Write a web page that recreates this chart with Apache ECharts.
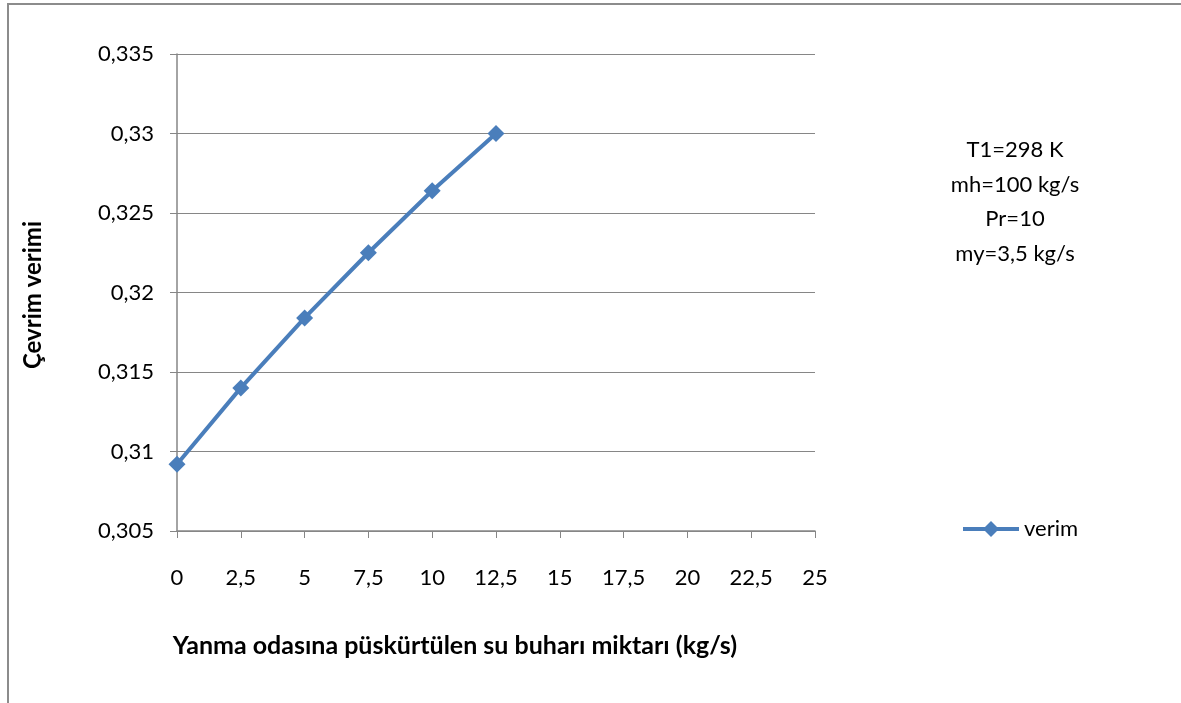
<!DOCTYPE html>
<html>
<head>
<meta charset="utf-8">
<script src="https://cdn.jsdelivr.net/npm/echarts@6/dist/echarts.min.js"></script>
<style>
  html, body { margin: 0; padding: 0; background: #fff; }
  #echarts-box { width: 1181px; height: 703px; }
</style>
</head>
<body>
<div id="echarts-box"></div>
<script>
// data
var xValues = [0, 2.5, 5, 7.5, 10, 12.5];
var verim = [0.3092, 0.3140, 0.3184, 0.3225, 0.3264, 0.3300];
var seriesName = "verim";
var noteLines = ["T1=298 K", "mh=100 kg/s", "Pr=10", "my=3,5 kg/s"];

var FONT = "Lato";
var comma = function (v) {
    return String(+Number(v).toFixed(3)).replace(".", ",");
};

var myChart = echarts.init(document.getElementById("echarts-box"));
var option = {
    animation: false,
    backgroundColor: "#fff",
    textStyle: { fontFamily: FONT },
    grid: { left: 177, right: 366, top: 54, bottom: 172 },
    title: {
        text: noteLines.join("\n"),
        left: 1010,
        top: 128,
        textAlign: "center",
        textStyle: { fontFamily: FONT, fontSize: 22, fontWeight: "normal", color: "#000", lineHeight: 34.5 }
    },
    legend: {
        data: [seriesName],
        left: 956,
        top: 513,
        itemWidth: 56,
        itemHeight: 20,
        itemGap: 4,
        lineStyle: { width: 4 },
        textStyle: { fontFamily: FONT, fontSize: 22, color: "#000" }
    },
    xAxis: {
        type: "value",
        min: 0,
        max: 25,
        interval: 2.5,
        axisLine: { lineStyle: { color: "#868686", width: 1.5 } },
        axisTick: { show: true, inside: false, length: 7, lineStyle: { color: "#868686" } },
        splitLine: { show: false },
        axisLabel: { margin: 36, fontSize: 22, color: "#000", fontFamily: FONT, formatter: comma }
    },
    yAxis: {
        type: "value",
        min: 0.305,
        max: 0.335,
        interval: 0.005,
        axisLine: { show: true, lineStyle: { color: "#868686", width: 1.5 } },
        axisTick: { show: true, length: 7, lineStyle: { color: "#868686" } },
        splitLine: { lineStyle: { color: "#868686", width: 1 } },
        axisLabel: { margin: 23, fontSize: 22, color: "#000", fontFamily: FONT, formatter: comma }
    },
    graphic: [
        {
            type: "rect",
            shape: { x: 8, y: 4, width: 1200, height: 720 },
            style: { fill: null, stroke: "#8c8c8c", lineWidth: 2 },
            silent: true
        },
        {
            type: "text",
            x: 33,
            y: 295,
            rotation: Math.PI / 2,
            style: {
                text: "Çevrim verimi",
                fontFamily: FONT,
                fontSize: 24,
                fontWeight: "bold",
                fill: "#000",
                align: "center",
                verticalAlign: "middle"
            }
        },
        {
            type: "text",
            x: 455,
            y: 646,
            style: {
                text: "Yanma odasına püskürtülen su buharı miktarı (kg/s)",
                fontFamily: FONT,
                fontSize: 25,
                fontWeight: "bold",
                fill: "#000",
                align: "center",
                verticalAlign: "middle"
            }
        }
    ],
    series: [
        {
            name: seriesName,
            type: "line",
            data: xValues.map(function (x, i) { return [x, verim[i]]; }),
            symbol: "diamond",
            symbolSize: 17,
            showAllSymbol: true,
            lineStyle: { color: "#4a7ebb", width: 4 },
            itemStyle: { color: "#4a7ebb" }
        }
    ]
};
myChart.setOption(option);
</script>
</body>
</html>
